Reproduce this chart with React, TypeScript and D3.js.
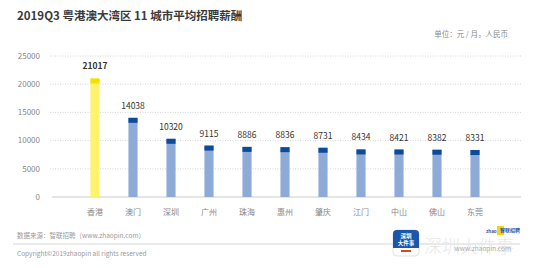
import React, { useEffect, useRef } from "react";
import * as d3 from "d3";

const cities = ["香港", "澳门", "深圳", "广州", "珠海", "惠州", "肇庆", "江门", "中山", "佛山", "东莞"];
const salaries = [21017, 14038, 10320, 9115, 8886, 8836, 8731, 8434, 8421, 8382, 8331];
const yTicks = [0, 5000, 10000, 15000, 20000, 25000];

const FONT = "'Noto Sans CJK SC', 'Noto Sans', sans-serif";

const App: React.FC = () => {
  const ref = useRef<SVGSVGElement | null>(null);

  useEffect(() => {
    if (!ref.current) return;
    const width = 542;
    const height = 268;

    const svg = d3.select(ref.current).attr("width", width).attr("height", height);
    svg.selectAll("*").remove();

    svg.append("rect").attr("width", width).attr("height", height).attr("fill", "#fff");

    // --- Scales
    const x = d3.scaleBand<string>().domain(cities).range([76, 494]).paddingInner(0.76).paddingOuter(0.38);
    const y = d3.scaleLinear().domain([0, 25000]).range([197, 56]);

    // Title
    svg
      .append("text")
      .attr("x", 17)
      .attr("y", 20)
      .style("font-family", FONT)
      .style("font-size", "11.5px")
      .style("font-weight", "bold")
      .style("fill", "#3a3a3a")
      .text("2019Q3 粤港澳大湾区 11 城市平均招聘薪酬");

    svg
      .append("text")
      .attr("x", 508)
      .attr("y", 37)
      .attr("text-anchor", "end")
      .style("font-family", FONT)
      .style("font-size", "7.5px")
      .style("fill", "#888")
      .text("单位：元 / 月，人民币");

    // Grid + y labels
    svg
      .append("g")
      .selectAll("line")
      .data(yTicks.filter((d) => d > 0))
      .join("line")
      .attr("x1", 50)
      .attr("x2", 521)
      .attr("y1", (d) => y(d))
      .attr("y2", (d) => y(d))
      .attr("stroke", "#ccc")
      .attr("stroke-width", 0.8)
      .attr("stroke-dasharray", "1,1.5");

    svg
      .append("line")
      .attr("x1", 52)
      .attr("x2", 521)
      .attr("y1", y(0))
      .attr("y2", y(0))
      .attr("stroke", "#ccc")
      .attr("stroke-width", 1.2);

    svg
      .append("g")
      .selectAll("text")
      .data(yTicks)
      .join("text")
      .attr("x", 40)
      .attr("y", (d) => y(d))
      .attr("dy", "0.35em")
      .attr("text-anchor", "end")
      .style("font-family", FONT)
      .style("font-size", "8px")
      .style("fill", "#888")
      .text((d) => String(d));

    // Bars
    const capH = 5;
    const bars = svg
      .append("g")
      .selectAll("g")
      .data(cities)
      .join("g");

    bars
      .append("rect")
      .attr("x", (d) => x(d)!)
      .attr("width", x.bandwidth())
      .attr("y", (d, i) => y(salaries[i]))
      .attr("height", (d, i) => y(0) - y(salaries[i]))
      .attr("fill", (d, i) => (i === 0 ? "#fff36b" : "#8eaad6"));

    bars
      .append("rect")
      .attr("x", (d) => x(d)!)
      .attr("width", x.bandwidth())
      .attr("y", (d, i) => y(salaries[i]))
      .attr("height", capH)
      .attr("fill", (d, i) => (i === 0 ? "#f3df00" : "#0c4a9b"));

    bars
      .append("text")
      .attr("x", (d) => x(d)! + x.bandwidth() / 2)
      .attr("y", (d, i) => y(salaries[i]) - 9)
      .attr("text-anchor", "middle")
      .style("font-family", FONT)
      .style("font-size", "8.5px")
      .style("font-weight", (d, i) => (i === 0 ? "bold" : "normal"))
      .style("fill", "#333")
      .text((d, i) => String(salaries[i]));

    bars
      .append("text")
      .attr("x", (d) => x(d)! + x.bandwidth() / 2)
      .attr("y", 215)
      .attr("text-anchor", "middle")
      .style("font-family", FONT)
      .style("font-size", "8px")
      .style("fill", "#888")
      .text((d) => d);

    // Footer
    svg
      .append("text")
      .attr("x", 17)
      .attr("y", 238)
      .style("font-family", FONT)
      .style("font-size", "6.5px")
      .style("fill", "#999")
      .text("数据来源：智联招聘（www.zhaopin.com）");

    svg
      .append("line")
      .attr("x1", 13)
      .attr("x2", 520)
      .attr("y1", 244)
      .attr("y2", 244)
      .attr("stroke", "#ccc")
      .attr("stroke-width", 0.8);

    svg
      .append("text")
      .attr("x", 17)
      .attr("y", 256)
      .style("font-family", FONT)
      .style("font-size", "6.5px")
      .style("fill", "#999")
      .text("Copyright©2019zhaopin all rights reserved");

    // Watermark + logos
    svg
      .append("text")
      .attr("x", 424)
      .attr("y", 253)
      .style("font-family", FONT)
      .style("font-size", "18px")
      .style("font-weight", "300")
      .style("fill", "#e8e8e8")
      .text("深圳大件事");

    svg
      .append("text")
      .attr("x", 511)
      .attr("y", 251)
      .attr("text-anchor", "end")
      .style("font-family", FONT)
      .style("font-size", "6.5px")
      .style("fill", "#aaa")
      .text("www.zhaopin.com");

    const logo = svg.append("g").attr("transform", "translate(486,226)");
    logo
      .append("text")
      .attr("x", 0)
      .attr("y", 7)
      .style("font-family", FONT)
      .style("font-size", "4.5px")
      .style("font-weight", "bold")
      .style("fill", "#1a56b0")
      .text("zhao");
    logo.append("rect").attr("x", 11).attr("y", 0).attr("width", 7).attr("height", 9).attr("fill", "#f6d800");
    logo
      .append("text")
      .attr("x", 14)
      .attr("y", 6)
      .style("font-family", FONT)
      .style("font-size", "5px")
      .style("font-weight", "bold")
      .style("fill", "#1a56b0")
      .text("智联招聘");

    const icon = svg.append("g").attr("transform", "translate(393,230)");
    icon
      .append("rect")
      .attr("width", 26)
      .attr("height", 26)
      .attr("rx", 4)
      .attr("fill", "#fff")
      .attr("stroke", "#ccc")
      .attr("stroke-width", 0.6);
    icon.append("path").attr("d", "M0,4 a4,4 0 0 1 4,-4 h18 a4,4 0 0 1 4,4 v14 h-26 z").attr("fill", "#1b56a8");
    icon
      .append("text")
      .attr("x", 13)
      .attr("y", 8)
      .attr("text-anchor", "middle")
      .style("font-family", FONT)
      .style("font-size", "5.5px")
      .style("font-weight", "bold")
      .style("fill", "#fff")
      .text("深圳");
    icon
      .append("text")
      .attr("x", 13)
      .attr("y", 15)
      .attr("text-anchor", "middle")
      .style("font-family", FONT)
      .style("font-size", "5.5px")
      .style("font-weight", "bold")
      .style("fill", "#fff")
      .text("大件事");
    icon.append("rect").attr("x", 8).attr("y", 20).attr("width", 10).attr("height", 2).attr("fill", "#e0452b");

    return () => {
      d3.select(ref.current).selectAll("*").remove();
    };
  }, []);

  return <svg ref={ref} style={{ position: "absolute", left: 0, top: 0 }}></svg>;
};

export default App;
